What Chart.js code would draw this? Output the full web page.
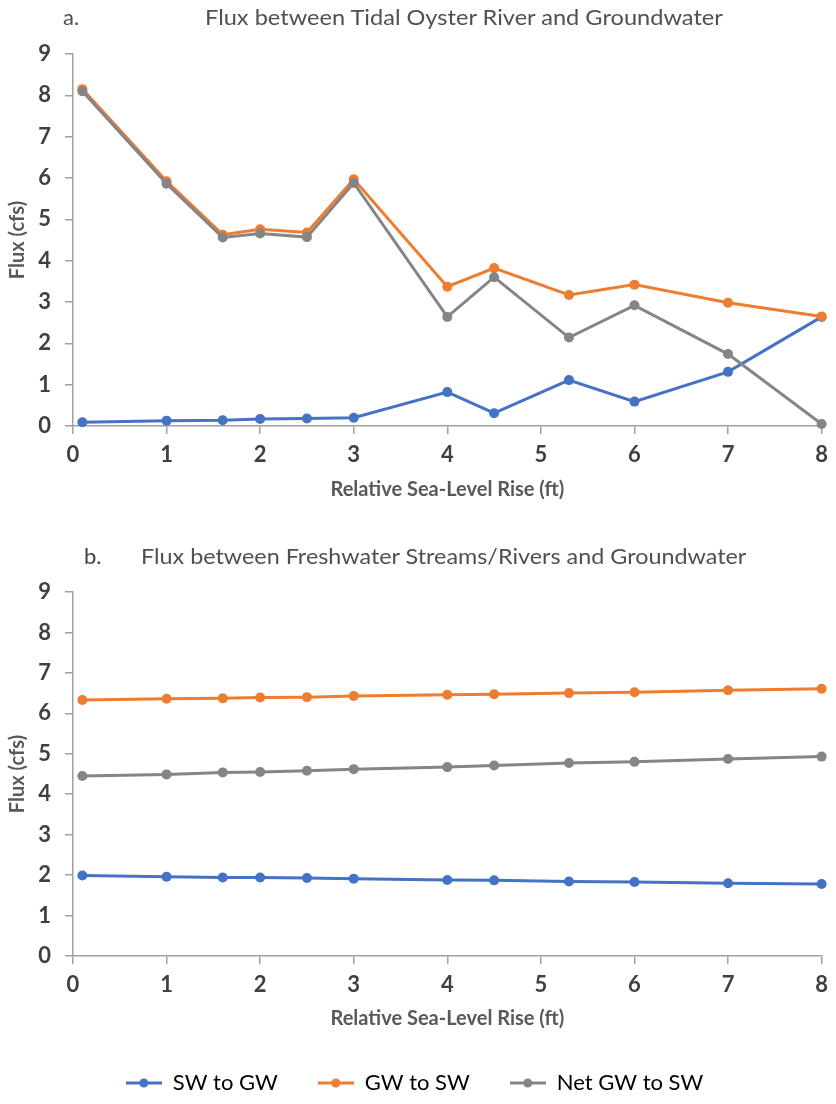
<!DOCTYPE html>
<html>
<head>
<meta charset="utf-8">
<script src="https://cdn.jsdelivr.net/npm/chart.js@4.4.0/dist/chart.umd.min.js"></script>
<style>
  body { margin: 0; background: #fff; width: 836px; height: 1104px; overflow: hidden; position: relative; font-family: Lato, sans-serif; }
  .box { position: absolute; left: 0; }
  .ttl { position: absolute; font-size: 22px; line-height: 22px; color: #505050; white-space: nowrap; transform-origin: left center; }
</style>
</head>
<body>
<div class="box" style="top:0"><canvas id="chartA" width="836" height="503"></canvas></div>
<div class="box" style="top:540px"><canvas id="chartB" width="836" height="564"></canvas></div>

<div class="ttl" style="left:63px;top:6px">a.</div>
<div class="ttl" id="titleA" style="left:205px;top:6px">Flux between Tidal Oyster River and Groundwater</div>
<div class="ttl" style="left:84px;top:545px;color:#404040">b.</div>
<div class="ttl" id="titleB" style="left:141px;top:545px">Flux between Freshwater Streams/Rivers and Groundwater</div>

<script>
// x positions (relative sea-level rise, ft)
const xRise = [0.1, 1, 1.6, 2, 2.5, 3, 4, 4.5, 5.3, 6, 7, 8];

// a. tidal Oyster River
const tidalSwToGw = [0.09, 0.13, 0.14, 0.17, 0.18, 0.20, 0.82, 0.31, 1.11, 0.59, 1.31, 2.64];
const tidalGwToSw = [8.15, 5.92, 4.63, 4.76, 4.68, 5.97, 3.37, 3.82, 3.17, 3.42, 2.98, 2.65];
const tidalNet    = [8.10, 5.86, 4.56, 4.66, 4.57, 5.88, 2.64, 3.60, 2.14, 2.92, 1.74, 0.05];

// b. freshwater streams/rivers
const freshSwToGw = [1.99, 1.96, 1.94, 1.94, 1.93, 1.91, 1.88, 1.87, 1.84, 1.83, 1.80, 1.78];
const freshGwToSw = [6.33, 6.36, 6.37, 6.39, 6.40, 6.43, 6.46, 6.47, 6.50, 6.52, 6.57, 6.61];
const freshNet    = [4.45, 4.49, 4.54, 4.55, 4.58, 4.62, 4.67, 4.71, 4.77, 4.80, 4.87, 4.93];

const seriesNames = ["SW to GW", "GW to SW", "Net GW to SW"];
const seriesColors = ["#4472C4", "#ED7D31", "#858585"];

const axisGray = "#a0a0a0";
const tickFont = { family: "Lato", size: 22, weight: "bold" };
const titleFont = { family: "Lato", size: 20, weight: "bold" };

// little line + dot samples for the legend
const swatches = seriesColors.map(function (c) {
  const cv = document.createElement("canvas");
  cv.width = 36; cv.height = 12;
  const g = cv.getContext("2d");
  g.strokeStyle = c; g.lineWidth = 3;
  g.beginPath(); g.moveTo(0, 6); g.lineTo(36, 6); g.stroke();
  g.fillStyle = c;
  g.beginPath(); g.arc(18, 6, 4.5, 0, Math.PI * 2); g.fill();
  return cv;
});

function makeChart(id, series, showLegend, xHeight, padTop) {
  const datasets = series.map(function (vals, i) {
    return {
      label: seriesNames[i],
      data: xRise.map(function (x, k) { return { x: x, y: vals[k] }; }),
      borderColor: seriesColors[i],
      backgroundColor: seriesColors[i],
      borderWidth: 3,
      pointRadius: 5,
      pointHoverRadius: 5,
      pointBorderWidth: 0,
      order: 3 - i,
      clip: false
    };
  });

  return new Chart(document.getElementById(id), {
    type: "line",
    data: { datasets: datasets },
    options: {
      responsive: false,
      animation: false,
      layout: { padding: { top: padTop, right: 7, left: 0, bottom: 0 } },
      plugins: {
        tooltip: { enabled: false },
        legend: {
          display: showLegend,
          position: "bottom",
          labels: {
            usePointStyle: true,
            pointStyleWidth: 36,
            boxHeight: 12,
            padding: 40,
            color: "#404040",
            font: { family: "Lato", size: 22 },
            generateLabels: function (chart) {
              return chart.data.datasets.map(function (ds, i) {
                return {
                  text: ds.label, pointStyle: swatches[i], fillStyle: ds.borderColor,
                  strokeStyle: ds.borderColor, lineWidth: 0, hidden: false, datasetIndex: i
                };
              });
            }
          }
        }
      },
      scales: {
        x: {
          type: "linear", min: 0, max: 8,
          afterFit: function (s) { s.height = xHeight; },
          border: { display: true, color: axisGray, width: 1.5 },
          grid: { display: true, drawOnChartArea: false, drawTicks: true, tickLength: 8, color: axisGray, lineWidth: 1.5 },
          ticks: { stepSize: 1, padding: 8, color: "#404040", font: tickFont, maxRotation: 0 },
          title: { display: true, text: "Relative Sea-Level Rise (ft)", color: "#595959", font: titleFont, padding: { top: 0, bottom: 1 } }
        },
        y: {
          min: 0, max: 9,
          afterFit: function (s) { s.width = 73; },
          border: { display: true, color: axisGray, width: 1.5 },
          grid: { display: true, drawOnChartArea: false, drawTicks: true, tickLength: 8, color: axisGray, lineWidth: 1.5 },
          ticks: { stepSize: 1, padding: 14, color: "#404040", font: tickFont },
          title: { display: true, text: "Flux (cfs)", color: "#595959", font: titleFont, padding: { top: 6, bottom: 0 } }
        }
      }
    }
  });
}

makeChart("chartA", [tidalSwToGw, tidalGwToSw, tidalNet], false, 77, 54);
makeChart("chartB", [freshSwToGw, freshGwToSw, freshNet], true, 76, 52);

// stretch the heading texts to the widths seen in the figure
[["titleA", 518], ["titleB", 605]].forEach(function (p) {
  const el = document.getElementById(p[0]);
  el.style.transform = "scaleX(" + (p[1] / el.offsetWidth) + ")";
});
</script>
</body>
</html>
